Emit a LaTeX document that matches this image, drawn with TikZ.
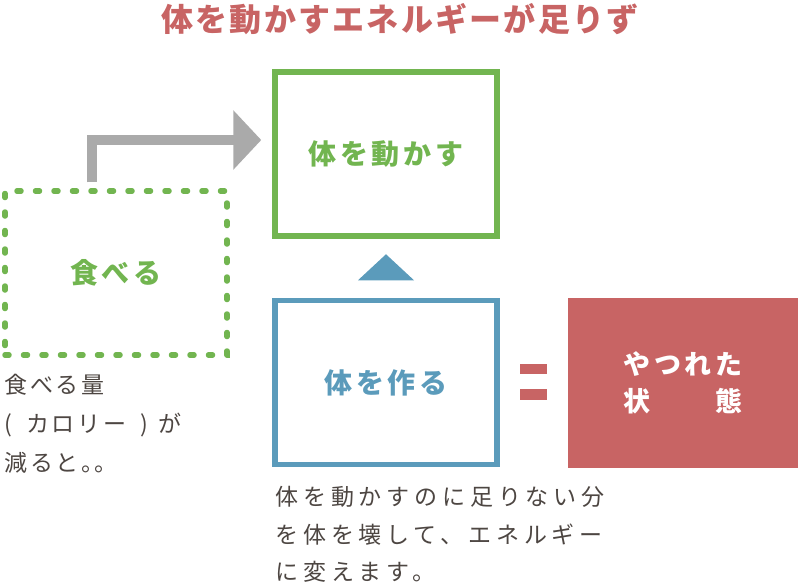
\documentclass[tikz,border=0pt]{standalone}
\usepackage{fontspec}
\setmainfont{Noto Sans CJK JP}
\newfontfamily\jptitle[LetterSpace=7]{Noto Sans CJK JP}
\newfontfamily\jplabel[LetterSpace=14]{Noto Sans CJK JP}
\newfontfamily\jpnote[LetterSpace=12]{Noto Sans CJK JP}
\newfontfamily\jpwide[LetterSpace=21]{Noto Sans CJK JP}
\usetikzlibrary{positioning,arrows.meta,calc}

\definecolor{leaf}{HTML}{72B550}
\definecolor{sea}{HTML}{5B9BBB}
\definecolor{rose}{HTML}{C86464}
\definecolor{ink}{HTML}{4D4642}
\definecolor{shaft}{HTML}{AAAAAA}

\begin{document}
\begin{tikzpicture}[x=1pt, y=1pt, node distance=59pt and 68pt,
  b/.style={draw=#1, line width=5.5pt, minimum width=222pt, minimum height=164pt,
    text=#1, font=\jplabel\bfseries\fontsize{28pt}{34pt}\selectfont},
  n/.style={anchor=north west, inner sep=0pt, align=left, text=ink},
  a/.style={draw=shaft, line width=10pt, -{Triangle[length=28pt, width=58pt]}}]
\useasboundingbox (0,0) rectangle (799,-587);
\node[font=\jptitle\bfseries\fontsize{32pt}{38pt}\selectfont, text=rose] (title) at (400,-19) {体を動かすエネルギーが足りず};
\node[b=leaf] (move) at (386,-154) {体を動かす};
\node[b=sea, below=of move] (make) {体を作る};
\node[b=leaf, dash pattern=on 4pt off 14.5pt, line cap=round] (eat) at (116,-273) {食べる};
\node[right=of make, fill=rose, minimum width=230pt, minimum height=170pt, align=center, text=white,
  font=\jplabel\bfseries\fontsize{27pt}{37pt}\selectfont] (state) {やつれた\\状　　態};
\draw[a] ([xshift=-24pt, yshift=6pt]eat.north) |- ([xshift=-11pt, yshift=14pt]move.west);
% up triangle between the boxes
\coordinate (mid) at ($(move.south)!0.5!(make.north)$);
\fill[sea] ([yshift=14pt]mid) -- ([shift={(-28pt,-12pt)}]mid) -- ([shift={(28pt,-12pt)}]mid) -- cycle;
% equals sign
\fill[rose] ([shift={(20pt,9pt)}]make.east) rectangle ([shift={(47pt,19pt)}]make.east);
\fill[rose] ([shift={(20pt,-17pt)}]make.east) rectangle ([shift={(47pt,-6pt)}]make.east);
\node[n, font=\jpnote\fontsize{23pt}{39pt}\selectfont] (eatnote) at ([shift={(2pt,-16pt)}]eat.south west) {食べる量\\(\hspace{14pt}カロリー\hspace{14pt})\hspace{10pt}が\\減ると。\hspace{-10pt}。};
\node[n, font=\jpwide\fontsize{23pt}{37.5pt}\selectfont] (makenote) at ([shift={(3pt,-19pt)}]make.south west) {体を動かすのに足りない分\\を体を壊して、エネルギー\\に変えます。};
\end{tikzpicture}
\end{document}
